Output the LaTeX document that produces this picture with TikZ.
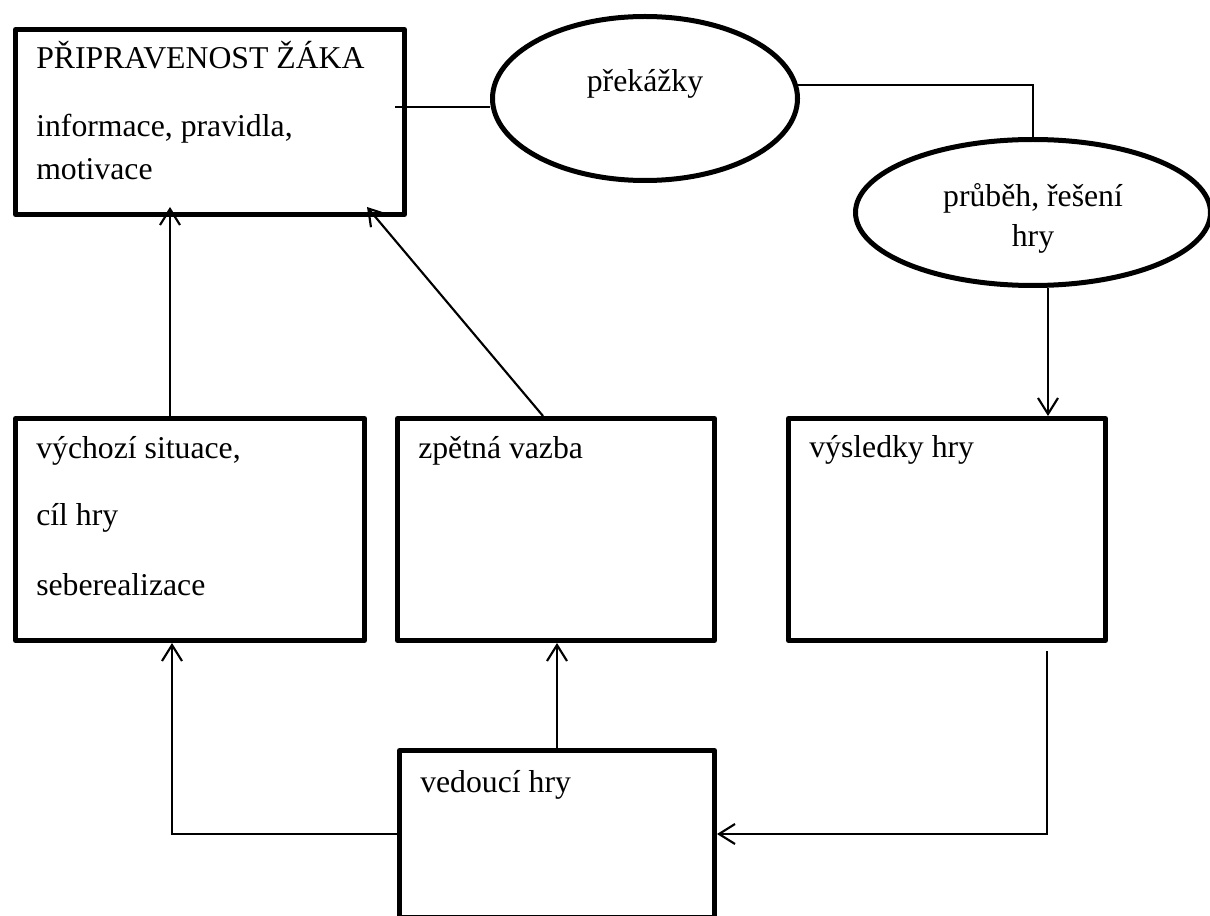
\documentclass[tikz,border=0pt]{standalone}
\usepackage{fontspec}
\setmainfont{Liberation Serif}
\usetikzlibrary{shapes.geometric,arrows.meta,calc}

\newcommand{\pxu}{0.75pt}

\tikzset{
  block/.style={draw, rectangle, line width=3.75pt, line join=round, inner sep=0pt},
  oval/.style={draw, ellipse, line width=3.75pt, inner sep=0pt},
  txt/.style={inner sep=0pt, font=\fontsize{23.8pt}{28pt}\selectfont},
  conn/.style={line width=1.5pt},
  arr/.style={line width=1.6pt, -{Straight Barb[length=12pt,width=15pt,line width=1.6pt]}},
}

\begin{document}
\begin{tikzpicture}[x=\pxu, y=-\pxu]
\useasboundingbox (0,0) rectangle (1210,916);

% boxes (centre, centre-line size)
\node[block, minimum width=389*\pxu, minimum height=185*\pxu] (A)  at (210,122) {};
\node[block, minimum width=349*\pxu, minimum height=222*\pxu] (B1) at (190,529.5) {};
\node[block, minimum width=317*\pxu, minimum height=222*\pxu] (B2) at (556,529.5) {};
\node[block, minimum width=317*\pxu, minimum height=222*\pxu] (C)  at (947,529.5) {};
\node[block, minimum width=315*\pxu, minimum height=167*\pxu] (D)  at (557,834) {};

% ellipses
\node[oval, minimum width=305*\pxu, minimum height=164*\pxu] (E1) at (645,98.5) {};
\node[oval, minimum width=355*\pxu, minimum height=146*\pxu] (E2) at (1033,212.5) {};

% texts
\node[txt, anchor=base west] (tA1) at (36,69)  {PŘIPRAVENOST ŽÁKA};
\node[txt, anchor=base west] (tA2) at (36,137) {informace, pravidla,};
\node[txt, anchor=base west] (tA3) at (36,180) {motivace};
\node[txt, anchor=base] (tE1)  at (645,92)   {překážky};
\node[txt, anchor=base] (tE2a) at (1033,207) {průběh, řešení};
\node[txt, anchor=base] (tE2b) at (1033,247) {hry};
\node[txt, anchor=base west] (tB1a) at (36,458) {výchozí situace,};
\node[txt, anchor=base west] (tB1b) at (36,525) {cíl hry};
\node[txt, anchor=base west] (tB1c) at (36,595) {seberealizace};
\node[txt, anchor=base west] (tB2) at (418,458) {zpětná vazba};
\node[txt, anchor=base west] (tC)  at (809,457) {výsledky hry};
\node[txt, anchor=base west] (tD)  at (420,792) {vedoucí hry};

% connectors
\coordinate (a1) at (395,107);
\draw[conn] (a1) -- (a1 -| E1.west);
\draw[conn] (E1.5) -| (E2.north);
\coordinate (cx) at (1048,0);
\draw[arr] (E2.south -| cx) -- (C.north -| cx);
\draw[arr] ($(B1.north)+(-20,0)$) -- ($(A.south)+(-40,-10)$);
\draw[arr] ($(B2.north)+(-13,0)$) -- ($(A.south)+(157,-10)$);
\draw[arr] (D.north) -- (D.north |- B2.south);
\draw[arr] (D.west) -| ($(B1.south)+(-18,0)$);
\draw[arr] ($(C.south)+(100,8)$) |- (D.east);
\end{tikzpicture}
\end{document}
